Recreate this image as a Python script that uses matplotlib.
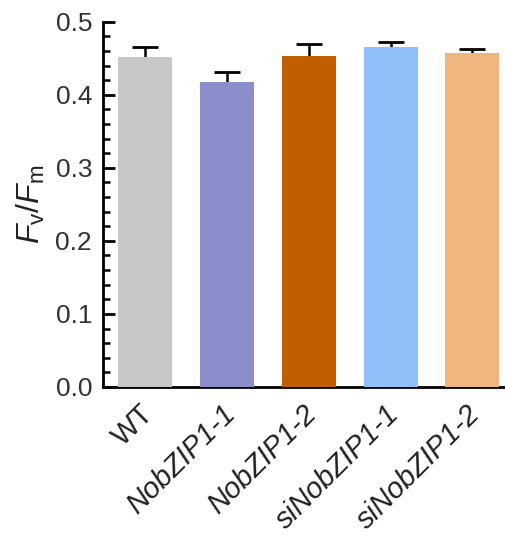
import matplotlib
matplotlib.use("Agg")
import matplotlib.pyplot as plt
import matplotlib.transforms as mtransforms
from matplotlib.ticker import MultipleLocator

plt.rcParams['font.family'] = ['Liberation Sans', 'DejaVu Sans']
plt.rcParams['mathtext.fontset'] = 'custom'
plt.rcParams['mathtext.rm'] = 'Liberation Sans'
plt.rcParams['mathtext.it'] = 'Liberation Sans:italic'

categories = ['WT', 'NobZIP1-1', 'NobZIP1-2', 'siNobZIP1-1', 'siNobZIP1-2']
values = [0.452, 0.417, 0.453, 0.466, 0.457]
errors = [0.013, 0.014, 0.016, 0.007, 0.006]
colors = ['#c8c8c8', '#8a8fcc', '#c05e00', '#90bef8', '#f0b67e']

fig = plt.figure(figsize=(5.06, 5.45), dpi=100)
ax = fig.add_axes([0.204, 0.29, 0.796, 0.67])

x = list(range(len(categories)))
ax.bar(x, values, width=0.66, color=colors, zorder=3)
eb = ax.errorbar(x, values, yerr=[[0] * len(errors), errors], fmt='none', ecolor='black',
                 elinewidth=1.8, capsize=9.5, capthick=2.0, zorder=2)
caps = eb.lines[1]
if len(caps) >= 2:
    caps[0].set_visible(False)

ax.set_xlim(-0.51, 4.41)
ax.set_ylim(0, 0.5)
ax.yaxis.set_minor_locator(MultipleLocator(0.02))
ax.set_yticks([0.0, 0.1, 0.2, 0.3, 0.4, 0.5])
ax.set_yticklabels(['0.0', '0.1', '0.2', '0.3', '0.4', '0.5'])

for s in ['top', 'right']:
    ax.spines[s].set_visible(False)
for s in ['left', 'bottom']:
    ax.spines[s].set_linewidth(2.0)
    ax.spines[s].set_color('black')

ax.tick_params(axis='y', which='major', direction='in', length=8.5, width=2.0,
               labelsize=19, labelcolor='#333333', pad=8)
ax.tick_params(axis='y', which='minor', direction='in', length=5, width=1.8)
ax.tick_params(axis='x', length=0, pad=9)

ax.set_xticks(x)
labels = ax.set_xticklabels(categories, rotation=45, ha='right', rotation_mode='anchor',
                            fontsize=21, style='italic', color='#222222')
labels[0].set_style('normal')
shift = mtransforms.ScaledTranslation(-6 / 100, 0, fig.dpi_scale_trans)
for lab in labels:
    lab.set_transform(lab.get_transform() + shift)

ax.set_ylabel(r'$\mathit{F}_\mathrm{v}/\mathit{F}_\mathrm{m}$', fontsize=23, color='#222222', labelpad=6)

fig.savefig('out.png', dpi=100)
